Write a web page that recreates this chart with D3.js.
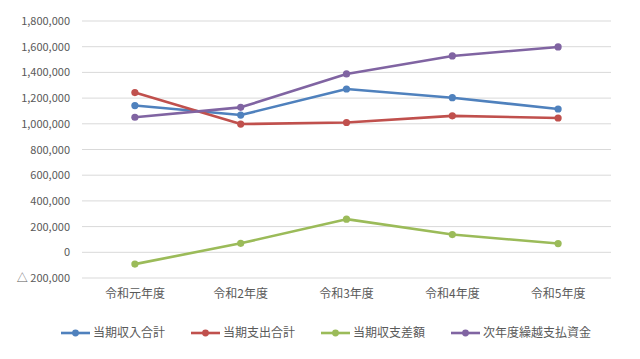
<!DOCTYPE html>
<html><head><meta charset="utf-8">
<script src="https://cdn.jsdelivr.net/npm/d3@7"></script>
<style>body{margin:0;background:#fff}svg{display:block}text{font-family:"Noto Sans CJK JP","Noto Sans",sans-serif;fill:#595959}</style>
</head><body><svg id="c" width="640" height="359"></svg>
<script>
const categories = ["令和元年度","令和2年度","令和3年度","令和4年度","令和5年度"];
const seriesNames = ["当期収入合計","当期支出合計","当期収支差額","次年度繰越支払資金"];
const income = [1142000,1068000,1271000,1203000,1115000];
const expense = [1243000,998000,1010000,1062000,1045000];
const balance = [-92000,70000,258000,138000,68000];
const carryover = [1051000,1128000,1388000,1528000,1598000];
const yTicks = [-200000,0,200000,400000,600000,800000,1000000,1200000,1400000,1600000,1800000];
const colors = ["#4F81BD","#C0504D","#9BBB59","#8064A2"];
const series = [income, expense, balance, carryover];

const svg = d3.select("#c");
const x = d3.scaleBand().domain(categories).range([82,611]);
const y = d3.scaleLinear().domain([-200000,1800000]).range([278,21]);
const fmt = d3.format(",");
const lab = v => v < 0 ? "△ " + fmt(-v) : fmt(v);

svg.append("g").selectAll("line").data(yTicks).join("line")
  .attr("x1",82).attr("x2",611).attr("y1",d=>y(d)).attr("y2",d=>y(d))
  .attr("stroke","#d9d9d9").attr("stroke-width",1);

const ya = svg.append("g").attr("transform","translate(70,0)")
  .call(d3.axisLeft(y).tickValues(yTicks).tickFormat(lab).tickSize(0).tickPadding(0));
ya.select(".domain").remove();
ya.selectAll("text").style("font-size","11px").style("fill","#595959").style("font-family",'"Noto Sans CJK JP",sans-serif');

const xa = svg.append("g").attr("transform","translate(0,289)")
  .call(d3.axisBottom(x).tickSize(0).tickPadding(0));
xa.select(".domain").remove();
xa.selectAll("text").style("font-size","12px").style("fill","#595959").attr("dy","0.71em").style("font-family",'"Noto Sans CJK JP",sans-serif');

const line = d3.line().x((d,i)=>x(categories[i])+x.bandwidth()/2).y(d=>y(d));
series.forEach((s,k)=>{
  svg.append("path").datum(s).attr("d",line).attr("fill","none")
    .attr("stroke",colors[k]).attr("stroke-width",2.6).attr("stroke-linejoin","round");
  svg.append("g").selectAll("circle").data(s).join("circle")
    .attr("cx",(d,i)=>x(categories[i])+x.bandwidth()/2).attr("cy",d=>y(d))
    .attr("r",3.6).attr("fill",colors[k]);
});

const legX = [61,191,321,451];
const lg = svg.append("g");
seriesNames.forEach((n,k)=>{
  const g = lg.append("g").attr("transform",`translate(${legX[k]},333)`);
  g.append("line").attr("x1",0).attr("x2",29).attr("stroke",colors[k]).attr("stroke-width",2.6);
  g.append("circle").attr("cx",14.5).attr("r",3.4).attr("fill",colors[k]);
  g.append("text").attr("x",32).attr("dy","0.35em").style("font-size","12px").text(n);
});
</script></body></html>
